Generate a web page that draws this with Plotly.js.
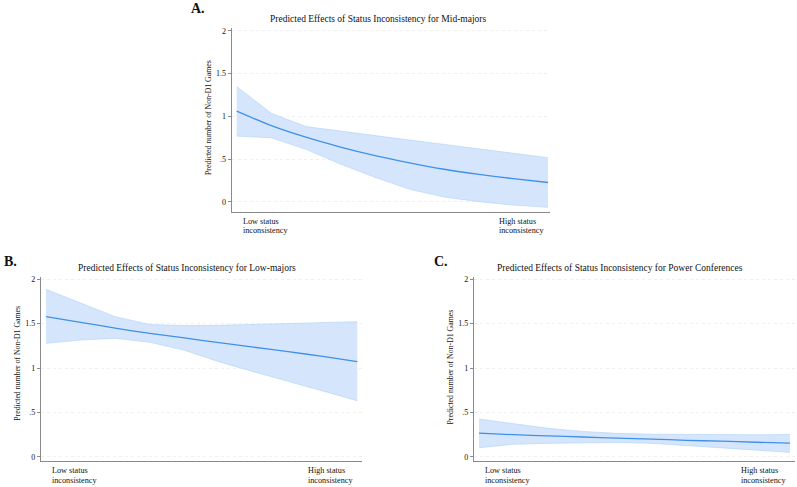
<!DOCTYPE html>
<html>
<head>
<meta charset="utf-8">
<script src="https://cdn.plot.ly/plotly-3.0.1.min.js"></script>
<style>
  html, body { margin: 0; padding: 0; background: #ffffff; }
  #chart { width: 797px; height: 487px; }
</style>
</head>
<body>
<div id="chart"></div>
<script>
// Predicted number of non-D1 games across status inconsistency (10 evaluation points)
const steps = [0, 1, 2, 3, 4, 5, 6, 7, 8, 9];

// Mid-majors
const midMean  = [1.06, 0.89, 0.755, 0.64, 0.54, 0.455, 0.38, 0.32, 0.27, 0.225];
const midUpper = [1.35, 1.035, 0.88, 0.83, 0.78, 0.722, 0.671, 0.62, 0.566, 0.515];
const midLower = [0.768, 0.749, 0.613, 0.44, 0.285, 0.145, 0.055, 0.0, -0.04, -0.066];

// Low-majors
const lowMean  = [1.58, 1.515, 1.45, 1.39, 1.34, 1.285, 1.235, 1.185, 1.13, 1.072];
const lowUpper = [1.887, 1.73, 1.579, 1.49, 1.478, 1.481, 1.49, 1.50, 1.511, 1.522];
const lowLower = [1.278, 1.315, 1.335, 1.29, 1.20, 1.071, 0.958, 0.846, 0.741, 0.631];

// Power conferences
const powMean  = [0.265, 0.248, 0.235, 0.222, 0.21, 0.198, 0.185, 0.175, 0.163, 0.152];
const powUpper = [0.425, 0.37, 0.32, 0.285, 0.263, 0.253, 0.25, 0.249, 0.248, 0.25];
const powLower = [0.102, 0.14, 0.151, 0.158, 0.161, 0.151, 0.124, 0.102, 0.076, 0.049];

const panelTitles = [
  'Predicted Effects of Status Inconsistency for Mid-majors',
  'Predicted Effects of Status Inconsistency for Low-majors',
  'Predicted Effects of Status Inconsistency for Power Conferences'
];
const panelLetters = ['A.', 'B.', 'C.'];
const yTitle = 'Predicted number of Non-D1 Games';
const yTickVals = [0, 0.5, 1, 1.5, 2];
const yTickText = ['0', '.5', '1', '1.5', '2'];
const xLabelLines = [['Low status', 'inconsistency'], ['High status', 'inconsistency']];

// ---- layout geometry (pixels in a 797 x 487 figure) ----
const W = 797, H = 487;
const fx = p => p / W;
const fy = p => 1 - p / H;

const panels = [
  { mean: midMean, up: midUpper, lo: midLower,
    left: 231.7, right: 550, top: 28.3, bottom: 211.7, y0: 201.7, y2: 30.9, xFirst: 236.7, xLast: 548,
    title: [378, 19.3], letter: [198, 9], ytitle: [208, 118], lab: [221, 230.3] },
  { mean: lowMean, up: lowUpper, lo: lowLower,
    left: 41, right: 361.7, top: 276.5, bottom: 460.7, y0: 456.7, y2: 279.3, xFirst: 46, xLast: 357.3,
    title: [187, 268.3], letter: [10, 261], ytitle: [16.7, 363], lab: [470, 480] },
  { mean: powMean, up: powUpper, lo: powLower,
    left: 474, right: 795, top: 276.5, bottom: 460.7, y0: 456.7, y2: 279.3, xFirst: 479, xLast: 790,
    title: [620, 268.3], letter: [441, 261], ytitle: [450, 367.5], lab: [470, 480] }
];

const lineColor = 'rgb(64,144,234)';
const bandColor = 'rgba(206,226,251,0.85)';
const bandEdge = 'rgba(170,205,245,0.9)';
const axisColor = '#8a8a8a';
const textColor = '#111111';
const serif = 'Liberation Serif, Times New Roman, serif';

const traces = [];
const layout = {
  width: W, height: H,
  margin: { l: 0, r: 0, t: 0, b: 0 },
  paper_bgcolor: '#ffffff', plot_bgcolor: '#ffffff',
  showlegend: false,
  annotations: []
};

panels.forEach((p, i) => {
  const n = i === 0 ? '' : String(i + 1);
  const xa = 'x' + n, ya = 'y' + n;

  // axis ranges derived from pixel geometry
  const pxPerY = (p.y0 - p.y2) / 2;
  const yMin = -(p.bottom - p.y0) / pxPerY;
  const yMax = 2 + (p.y2 - p.top) / pxPerY;
  const pxPerX = (p.xLast - p.xFirst) / (steps.length - 1);
  const xMin = -(p.xFirst - p.left) / pxPerX;
  const xMax = (steps.length - 1) + (p.right - p.xLast) / pxPerX;

  traces.push({ x: steps, y: p.lo, xaxis: xa, yaxis: ya, type: 'scatter', mode: 'lines',
    line: { color: bandEdge, width: 0.6 }, hoverinfo: 'skip' });
  traces.push({ x: steps, y: p.up, xaxis: xa, yaxis: ya, type: 'scatter', mode: 'lines',
    fill: 'tonexty', fillcolor: bandColor, line: { color: bandEdge, width: 0.6 }, hoverinfo: 'skip' });
  traces.push({ x: steps, y: p.mean, xaxis: xa, yaxis: ya, type: 'scatter', mode: 'lines',
    line: { color: lineColor, width: 1.3, shape: 'spline', smoothing: 0.6 } });

  layout['xaxis' + n] = {
    domain: [fx(p.left), fx(p.right)], anchor: ya, range: [xMin, xMax],
    showline: true, linecolor: axisColor, linewidth: 1.2,
    showgrid: false, zeroline: false, ticks: '', showticklabels: false, fixedrange: true
  };
  layout['yaxis' + n] = {
    domain: [fy(p.bottom), fy(p.top)], anchor: xa, range: [yMin, yMax],
    showline: true, linecolor: axisColor, linewidth: 1.2,
    ticks: 'outside', ticklen: 3, tickcolor: axisColor, tickwidth: 1,
    tickvals: yTickVals, ticktext: yTickText,
    tickfont: { family: serif, size: 8, color: textColor },
    showgrid: true, gridcolor: '#ebebeb', griddash: '3px,3px', gridwidth: 0.8,
    zeroline: false, fixedrange: true
  };

  // panel title
  layout.annotations.push({ xref: 'paper', yref: 'paper', x: fx(p.title[0]), y: fy(p.title[1]),
    xanchor: 'center', yanchor: 'middle', showarrow: false, text: panelTitles[i],
    font: { family: serif, size: 9.5, color: textColor } });
  // panel letter
  layout.annotations.push({ xref: 'paper', yref: 'paper', x: fx(p.letter[0]), y: fy(p.letter[1]),
    xanchor: 'center', yanchor: 'middle', showarrow: false, text: '<b>' + panelLetters[i] + '</b>',
    font: { family: serif, size: 14, color: textColor } });
  // y axis title
  layout.annotations.push({ xref: 'paper', yref: 'paper', x: fx(p.ytitle[0]), y: fy(p.ytitle[1]),
    xanchor: 'center', yanchor: 'middle', showarrow: false, textangle: -90, text: yTitle,
    font: { family: serif, size: 7.8, color: textColor } });
  // x end labels, one annotation per text line, left aligned
  const labelX = [0.12, 7.52];
  xLabelLines.forEach((lines, k) => {
    lines.forEach((t, j) => {
      layout.annotations.push({ xref: xa, yref: 'paper', x: labelX[k], y: fy(p.lab[j]),
        xanchor: 'left', yanchor: 'middle', showarrow: false, text: t,
        font: { family: serif, size: 8.2, color: textColor } });
    });
  });
});

Plotly.newPlot('chart', traces, layout, { staticPlot: true, displayModeBar: false });
</script>
</body>
</html>
